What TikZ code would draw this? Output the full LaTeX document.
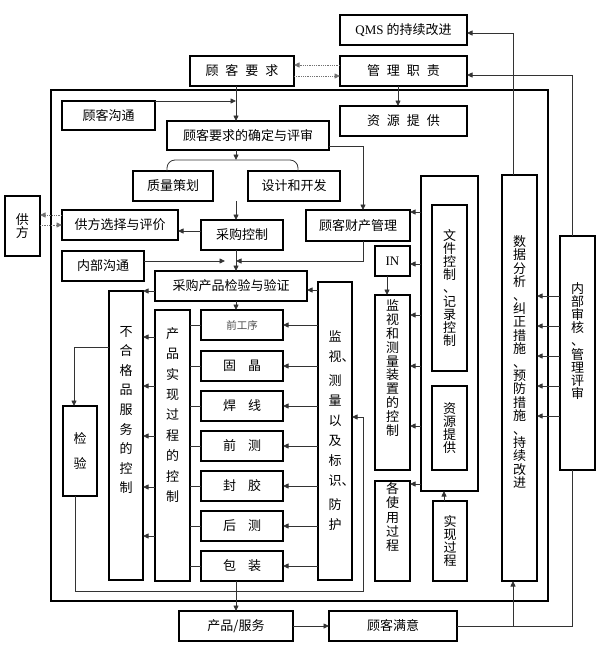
\documentclass[tikz,border=0pt]{standalone}
\usepackage{fontspec}
\setmainfont{Liberation Serif}
\newfontfamily\cjk{Noto Sans CJK SC}
\usepackage{tikz}
\usetikzlibrary{arrows.meta, calc}
\newcommand{\kgap}{\hspace{7pt}}
\newcommand{\wgap}{\hspace{12pt}}

\begin{document}
\begin{tikzpicture}[x=1pt,y=-1pt,inner sep=0pt,outer sep=0pt,
  box/.style={draw,line width=1.1pt,align=center,font=\cjk\fontsize{13}{15}\selectfont},
  wh/.style 2 args={minimum width=#1,minimum height=#2},
  vtxt/.style={align=center,font=\cjk\fontsize{13}{#1}\selectfont},
  line/.style={draw=black!80,line width=0.8pt},
  arr/.style={line,-{Triangle[length=5.5pt,width=5pt]}},
  dotarr/.style={arr,densely dotted,draw=black!55}]
\useasboundingbox (0,0) rectangle (600,648);
\coordinate (spine) at (236,0);
\coordinate (brace) at (236,160);

% top row
\node[box,wh={127}{30}] (qmsImp) at (403.5,30) {{\rmfamily QMS} 的持续改进};
\node[box,wh={127}{30}] (mgmtResp) at (403.5,71) {管\kgap 理\kgap 职\kgap 责};
\node[box,wh={104}{30}] (custReq) at (242,71) {顾\kgap 客\kgap 要\kgap 求};
\node[box,wh={127}{30}] (resTop) at (403.5,121) {资\kgap 源\kgap 提\kgap 供};

% system frame
\draw[line width=1.1pt] (51,90) rectangle (548,601);

\node[box,wh={93}{29}] (custComm) at (108.5,115.5) {顾客沟通};
\node[box,wh={162}{29}] (reqRev) at (248,135.5) {顾客要求的确定与评审};
\node[box,wh={80}{30}] (qPlan) at (173,186) {质量策划};
\node[box,wh={92}{30}] (desDev) at (294,186) {设计和开发};
\node[box,wh={82}{30}] (purCtl) at (242,235) {采购控制};
\node[box,wh={116}{30}] (supSel) at (120,225) {供方选择与评价};
\node[box,vtxt=12.5,wh={35}{60}] (supA) at (22.5,226) {供\\方};
\node[box,wh={82}{30}] (intComm) at (103,266) {内部沟通};
\node[box,wh={104}{31}] (custProp) at (358,225.5) {顾客财产管理};
\node[box,wh={152}{30}] (purVer) at (231,286) {采购产品检验与验证};

% process steps
\node[box,wh={82}{30},font=\cjk\fontsize{10.5}{12}\selectfont,text=black!70] (stp0) at (242,325) {前工序};
\node[box,wh={82}{30}] (stp1) at (242,366) {固\wgap 晶};
\node[box,wh={82}{30}] (stp2) at (242,406) {焊\wgap 线};
\node[box,wh={82}{30}] (stp3) at (242,446) {前\wgap 测};
\node[box,wh={82}{30}] (stp4) at (242,486) {封\wgap 胶};
\node[box,wh={82}{30}] (stp5) at (242,526) {后\wgap 测};
\node[box,wh={82}{30}] (stp6) at (242,566) {包\wgap 装};

\node[box,wh={35}{271}] (prodCtl) at (172.5,445.5) {};
\node[vtxt=20.4] (prodCtlT) at (172.5,415) {产\\品\\实\\现\\过\\程\\的\\控\\制};
\node[box,wh={34}{289}] (ncCtl) at (126,435.5) {};
\node[vtxt=19.6] (ncCtlT) at (126,410) {不\\合\\格\\品\\服\\务\\的\\控\\制};
\node[box,vtxt=25,wh={34}{90}] (inspA) at (80,451) {检\\验};
\node[box,vtxt=20,wh={34}{298}] (monA) at (335,431) {监\\视\rlap{、}\\[4pt]测\\量\\以\\及\\标\\识\rlap{、}\\[4pt]防\\护};

% measuring devices, documents, resources
\node[box,font=\rmfamily\fontsize{13}{15}\selectfont,wh={35}{30}] (inBox) at (392.5,261) {IN};
\node[box,wh={35}{175}] (mmdCtl) at (392.5,382.5) {};
\node[vtxt=13.8] (mmdCtlT) at (392.5,368) {监\\视\\和\\测\\量\\装\\置\\的\\控\\制};
\node[box,wh={35}{100}] (useProc) at (392.5,531) {};
\node[vtxt=14.25] (useProcT) at (392.5,517) {各\\使\\用\\过\\程};
\node[box,wh={57}{315}] (docFrame) at (449.5,333.5) {};
\node[box,vtxt=13.1,wh={35}{166}] (docCtl) at (449.5,288) {文\\件\\控\\制\\、\\记\\录\\控\\制};
\node[box,vtxt=13,wh={35}{84}] (resIn) at (449.5,428) {资\\源\\提\\供};
\node[box,vtxt=13,wh={34}{80}] (realProc) at (450,541) {实\\现\\过\\程};

% improvement column
\node[box,wh={35}{406}] (dataAn) at (519.5,378) {};
\node[vtxt=13.4] (dataAnT) at (519.5,362) {数\\据\\分\\析\\、\\纠\\正\\措\\施\\、\\预\\防\\措\\施\\、\\持\\续\\改\\进};
\node[box,wh={35}{234}] (intAud) at (577.5,353) {};
\node[vtxt=13.1] (intAudT) at (577.5,341) {内\\部\\审\\核\\、\\管\\理\\评\\审};

% output row
\node[box,wh={114}{30}] (prodSvc) at (236,626) {产品/服务};
\node[box,wh={128}{30}] (custSat) at (393,626) {顾客满意};

% helper points
\coordinate (dotU) at ([yshift=6pt]mgmtResp.west);
\coordinate (dotD) at ([yshift=-5pt]custReq.east);
\coordinate (dataTop) at ([xshift=-6.5pt]dataAn.north);
\coordinate (dataBot) at ([xshift=-6.5pt]dataAn.south);
\coordinate (audTop) at ([xshift=-5.5pt]intAud.north);
\coordinate (audBot) at ([xshift=-5.5pt]intAud.south);

% top links
\draw[dotarr] (dotU) -- (dotU -| custReq.east);
\draw[dotarr] (dotD) -- (dotD -| mgmtResp.west);
\draw[arr] (dataTop) |- ([yshift=-3pt]qmsImp.east);
\draw[arr] (audTop) |- ([yshift=-4pt]mgmtResp.east);
\draw[arr] ([xshift=-5.5pt]mgmtResp.south) -- ([xshift=-5.5pt]resTop.north);

% main flow
\draw[arr] (custReq.south -| spine) -- (reqRev.north -| spine);
\draw[arr] (custComm.north east) -- (custComm.north east -| spine);
\draw[arr] (reqRev.south -| spine) -- (brace);
\draw[line,rounded corners=8pt] ([xshift=-6pt]qPlan.north) |- (brace) -| ([xshift=4pt]desDev.north);
\draw[arr] (desDev.south -| spine) -- (purCtl.north -| spine);
\coordinate (pcW) at ([yshift=4pt]purCtl.west);
\draw[arr] (pcW) -- (pcW -| supSel.east);
\coordinate (ssW) at ([yshift=10pt]supSel.west);
\draw[dotarr] (ssW) -- (ssW -| supA.east);
\draw[dotarr] (supSel.west -| supA.east) -- (supSel.west);
\draw[arr] (purCtl.south -| spine) -- (purVer.north -| spine);
\coordinate (icE) at ([yshift=5pt]intComm.east);
\draw[arr] (icE) -- ($(icE -| spine)+(-11,0)$);
\coordinate (rrE) at ([yshift=-10.5pt]reqRev.east);
\draw[arr] (rrE) -| ([xshift=5pt]custProp.north);
\draw[arr] ([xshift=5pt]custProp.south) |- (icE -| spine);

% realisation and nonconformity
\draw[arr] (purVer.south -| spine) -- (stp0.north -| spine);
\coordinate (pvW) at ([yshift=-5pt]purVer.west);
\draw[arr] (pvW) -- (pvW -| ncCtl.east);
\foreach \y in {337,386,436,487,536}
  \draw[arr] (prodCtl.west |- 0,\y) -- (ncCtl.east |- 0,\y);
\draw[arr] (ncCtl.west |- 0,347) -| ([xshift=-6pt]inspA.north);
\draw[arr] ([xshift=-5pt]inspA.south) |- (363,591) |- ([yshift=14pt]monA.east);
\foreach \s in {stp0,stp1,stp2,stp3,stp4,stp5,stp6} {
  \draw[line] (prodCtl.east |- \s.west) -- (\s.west);
  \draw[arr] (monA.west |- \s.east) -- (\s.east);
}
\coordinate (pvE) at ([yshift=-4pt]purVer.east);
\draw[arr] (monA.west |- pvE) -- (pvE);

% support column
\foreach \y/\n in {212/custProp,264/inBox,315/mmdCtl,366/mmdCtl,426/mmdCtl,484/useProc}
  \draw[arr] (docFrame.west |- 0,\y) -- (\n.east |- 0,\y);
\draw[arr] ([xshift=-5.5pt]inBox.south) -- ([xshift=-5.5pt]mmdCtl.north);
\coordinate (rpN) at ([xshift=-6pt]realProc.north);
\draw[arr] (rpN) -- (rpN |- docFrame.south);
\foreach \y in {296,326,356,386,416}
  \draw[arr] (intAud.west |- 0,\y) -- (dataAn.east |- 0,\y);

% outputs
\draw[arr] (stp6.south -| spine) -- (prodSvc.north);
\draw[arr] (prodSvc.east) -- (custSat.west);
\draw[line] (custSat.east) -| (audBot);
\draw[arr] (custSat.east -| dataBot) -- (dataBot);
\end{tikzpicture}
\end{document}
